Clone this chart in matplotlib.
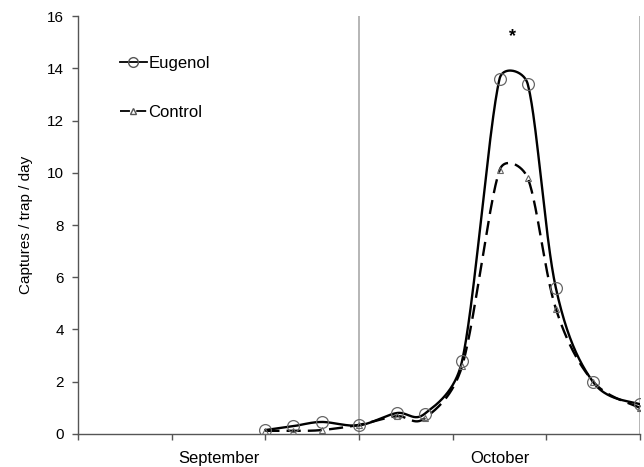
import numpy as np
import matplotlib
matplotlib.use("Agg")
import matplotlib.pyplot as plt
from matplotlib.lines import Line2D

plt.rcParams['font.family'] = ['Liberation Sans', 'DejaVu Sans']

# sampling days (x axis: 10-day ticks, September 0-30, October 30-60)
days = [20, 23, 26, 30, 34, 37, 41, 45, 48, 51, 55, 60]
eugenol = [0.15, 0.30, 0.46, 0.33, 0.80, 0.77, 2.8, 13.6, 13.4, 5.6, 1.98, 1.13]
control = [0.12, 0.12, 0.15, 0.35, 0.68, 0.60, 2.6, 10.1, 9.8, 4.8, 2.0, 1.0]
month_labels = ["September", "October"]
month_centers = [15, 45]
yticks = [0, 2, 4, 6, 8, 10, 12, 14, 16]


def smooth(ax, x, y, n=50):
    """Spreadsheet-style smoothed line: Bezier segments with Catmull-Rom
    tangents, limited to half the segment length (in display space)."""
    tr = ax.transData
    P = tr.transform(np.column_stack([x, y]))
    P = np.vstack([P[0], P, P[-1]])
    t = np.linspace(0, 1, n)[:, None]
    pts = []
    for i in range(1, len(P) - 2):
        p0, p3 = P[i], P[i + 1]
        seg = np.linalg.norm(p3 - p0)
        t1 = (P[i + 1] - P[i - 1]) / 6
        t2 = (P[i + 2] - P[i]) / 6
        for tv in (t1, t2):
            L = np.linalg.norm(tv)
            if L > 0.5 * seg and L > 0:
                tv *= 0.5 * seg / L
        p1 = p0 + t1
        p2 = p3 - t2
        b = (1 - t) ** 3 * p0 + 3 * (1 - t) ** 2 * t * p1 + 3 * (1 - t) * t ** 2 * p2 + t ** 3 * p3
        pts.append(b)
    pts = np.vstack(pts)
    d = tr.inverted().transform(pts)
    return d[:, 0], d[:, 1]


fig = plt.figure(figsize=(6.44, 4.67), dpi=100)
ax = fig.add_axes([0.121, 0.0707, 0.873, 0.895])
ax.set_xlim(0, 60)
ax.set_ylim(0, 16)

spine_col = '#555555'
grid_col = '#b5b5b5'

# month separator and right border
for xv in [30, 60]:
    ax.axvline(xv, color=grid_col, lw=1.4, zorder=1)

ex, ey = smooth(ax, days, eugenol)
cx, cy = smooth(ax, days, control)
ax.plot(ex, ey, color='black', lw=1.7, zorder=3)
ax.plot(cx, cy, color='black', lw=1.7, ls=(0, (6, 3)), zorder=3)
ax.plot(days, eugenol, ls='none', marker='o', ms=8.5, mfc='none', mec='#666666', mew=0.9, zorder=4)
ax.plot(days, control, ls='none', marker='^', ms=4.5, mfc='none', mec='#666666', mew=0.8, zorder=4)

ax.text(46.4, 15.2, '*', ha='center', va='center', fontsize=13, fontweight='bold')

ax.set_yticks(yticks)
ax.set_xticks(np.arange(0, 61, 10))
ax.set_xticklabels([])
ax.tick_params(axis='both', direction='out', length=4, width=1, color=spine_col, labelsize=11)
ax.tick_params(axis='y', pad=6)
for xc, lab in zip(month_centers, month_labels):
    ax.text(xc, -1.1, lab, ha='center', va='baseline', fontsize=12, clip_on=False)

for s in ['top', 'right']:
    ax.spines[s].set_visible(False)
for s in ['left', 'bottom']:
    ax.spines[s].set_color(spine_col)
    ax.spines[s].set_linewidth(1)

ax.set_ylabel('Captures / trap / day', fontsize=11, labelpad=10)

handles = [
    Line2D([], [], color='black', lw=1.3, marker='o', ms=7, mfc='none', mec='#555555'),
    Line2D([], [], color='black', lw=1.3, ls=(0, (5.5, 3.5)), marker='^', ms=4, mfc='none', mec='#555555'),
]
leg = ax.legend(handles, ['Eugenol', 'Control'], loc='upper left', bbox_to_anchor=(0.06, 0.925),
                frameon=False, fontsize=12, handlelength=1.6, handletextpad=0.1,
                labelspacing=2.05, borderpad=0)

fig.savefig('out.png', dpi=100)
